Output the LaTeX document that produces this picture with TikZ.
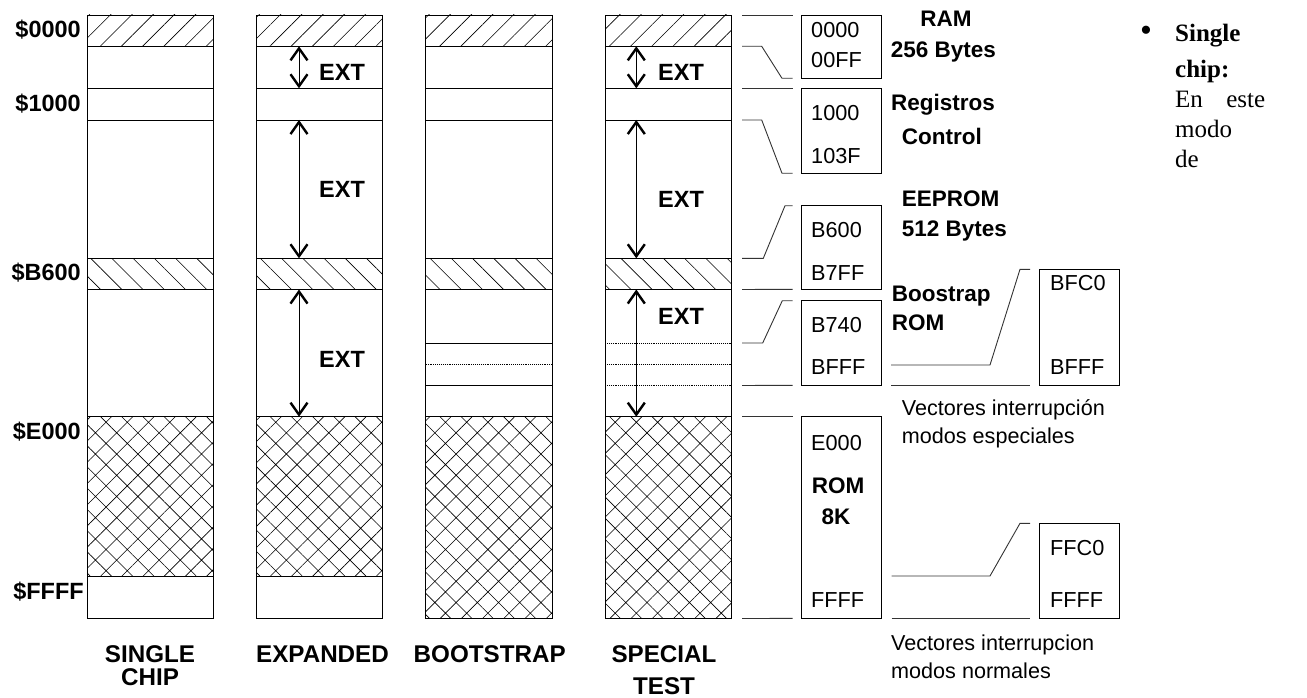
\documentclass[tikz,border=0pt]{standalone}
\usepackage{fontspec}
\setmainfont{Liberation Serif}
\setsansfont{Liberation Sans}
\usepackage{tikz}
\usetikzlibrary{arrows.meta,patterns.meta}
% one memory column: #1 = left edge, #2 = end of the ROM cross-hatch
\newcommand{\MemCol}[2]{%
  \begin{scope}[shift={(#1,0)}]
    \fill[pattern={Lines[angle=45,distance=15pt,line width=.6pt]}] (0,15) rectangle (126.5,46.3);
    \fill[pattern={Lines[angle=-45,distance=15pt,line width=.6pt]}] (0,258.3) rectangle (126.5,289.5);
    \fill[pattern={Hatch[angle=45,distance=15pt,line width=.6pt]}] (0,416.7) rectangle (126.5,#2);
    \draw[memline] (0,15) rectangle (126.5,618.5);
    \foreach \yy in {46.3,88.3,120,258.3,289.5,416.7,#2}
      \draw[memline] (0,\yy) -- (126.5,\yy);
  \end{scope}}
\tikzset{
  memline/.style={line width=.9pt},
  link/.style={line width=.9pt,black!80},
  addrbox/.style={draw,line width=.9pt,inner sep=0pt,outer sep=0pt,minimum width=80pt,anchor=north west},
  addr/.style={font=\sffamily\fontsize{21.7}{26}\selectfont,anchor=west,inner sep=0pt},
  hdr/.style={font=\sffamily\bfseries\fontsize{22.5}{26}\selectfont,inner sep=0pt},
  adrlbl/.style={font=\sffamily\bfseries\fontsize{23.5}{26}\selectfont,inner sep=0pt,anchor=east},
  extlbl/.style={font=\sffamily\bfseries\fontsize{23.5}{26}\selectfont,inner sep=0pt},
  modelbl/.style={font=\sffamily\bfseries\fontsize{24.2}{23}\selectfont,align=center,inner sep=0pt},
  note/.style={font=\sffamily\fontsize{21.6}{27.7}\selectfont,align=left,anchor=west,inner sep=0pt},
  extarrow/.style={{Straight Barb[length=12pt,width=17pt,line width=2.4pt]}-{Straight Barb[length=12pt,width=17pt,line width=2.4pt]},line width=.9pt}
}
\begin{document}
\begin{tikzpicture}[x=1pt,y=-1pt]
  \useasboundingbox (0,0) rectangle (1307,698);
  % memory maps
  \MemCol{87}{576}
  \MemCol{256}{576}
  \MemCol{425.7}{618.5}
  \MemCol{605}{618.5}
  \draw[memline] (425.7,343) -- ++(126.5,0);
  \draw[memline,densely dotted] (425.7,364.3) -- ++(126.5,0);
  \draw[memline] (425.7,385.7) -- ++(126.5,0);
  \foreach \yy in {343,364.3,385.7}
    \draw[memline,densely dotted] (605,\yy) -- ++(126.5,0);

  \node[adrlbl] (a0000) at (81,30) {\$0000};
  \node[adrlbl] (a1000) at (81,104) {\$1000};
  \node[adrlbl] (ab600) at (81,273) {\$B600};
  \node[adrlbl] (ae000) at (81,432) {\$E000};
  \node[adrlbl] (affff) at (84,592) {\$FFFF};

  % external ranges
  \foreach \xa/\xl in {299/342,636.3/681}{
    \draw[extarrow] (\xa,46.3) -- (\xa,88.3);
    \draw[extarrow] (\xa,120) -- (\xa,258.3);
    \draw[extarrow] (\xa,289.5) -- (\xa,416.7);
    \node[extlbl] at (\xl,72) {EXT};
  }
  \node[extlbl] (ext2) at (342,189) {EXT};
  \node[extlbl] (ext3) at (342,359) {EXT};
  \node[extlbl] (ext5) at (681,199) {EXT};
  \node[extlbl] (ext6) at (681,316) {EXT};

  \node[modelbl] (single) at (150,666) {SINGLE\\CHIP};
  \node[modelbl] (expanded) at (322.5,654.5) {EXPANDED};
  \node[modelbl] (bootstrap) at (489.7,654.5) {BOOTSTRAP};
  \node[modelbl] (special) at (664,670) {SPECIAL\\[8.7pt]TEST};

  % internal blocks
  \node[addrbox,minimum height=63.3pt] (ram) at (801.7,15) {};
  \node[addrbox,minimum height=85pt] (reg) at (801.7,88.3) {};
  \node[addrbox,minimum height=83.6pt] (eep) at (801.7,205.7) {};
  \node[addrbox,minimum height=84.6pt] (boot) at (801.7,300.7) {};
  \node[addrbox,minimum height=201.7pt] (rom) at (801.7,416.7) {};
  \node[addrbox,minimum width=79.7pt,minimum height=116pt] (vspec) at (1039.3,269.3) {};
  \node[addrbox,minimum width=79.7pt,minimum height=95pt] (vnorm) at (1039.3,523.3) {};

  \node[addr] (ramlo) at (811,30) {0000};
  \node[addr] (ramhi) at (811,60) {00FF};
  \node[addr] (reglo) at (811,113) {1000};
  \node[addr] (reghi) at (811,156) {103F};
  \node[addr] (eeplo) at (811,230) {B600};
  \node[addr] (eephi) at (811,272.7) {B7FF};
  \node[addr] (bootlo) at (811,325) {B740};
  \node[addr] (boothi) at (811,367.3) {BFFF};
  \node[addr] (romlo) at (811,442.7) {E000};
  \node[hdr] (romname) at (838,486) {ROM};
  \node[hdr] (romsize) at (836,516.7) {8K};
  \node[addr] (romhi) at (811,600) {FFFF};
  \node[addr] (vspeclo) at (1050,283.3) {BFC0};
  \node[addr] (vspechi) at (1050,367.3) {BFFF};
  \node[addr] (vnormlo) at (1050,547.7) {FFC0};
  \node[addr] (vnormhi) at (1050,600) {FFFF};

  \node[hdr] (ramt) at (946,19) {RAM};
  \node[hdr,anchor=west] (rams) at (890.7,51.7) {256 Bytes};
  \node[hdr,anchor=west] (regt) at (891,104.3) {Registros};
  \node[hdr,anchor=west] (regs) at (901.7,136) {Control};
  \node[hdr,anchor=west] (eept) at (901.7,198.3) {EEPROM};
  \node[hdr,anchor=west] (eeps) at (901.7,230.7) {512 Bytes};
  \node[hdr,anchor=west] (boott) at (891.7,295.7) {Boostrap};
  \node[hdr,anchor=west] (boots) at (891.7,322.7) {ROM};
  \node[note] (vspect) at (901.7,424) {Vectores interrupción\\modos especiales};
  \node[note] (vnormt) at (891,657) {Vectores interrupcion\\modos normales};

  % map lines
  \draw[link] (742,15) -- ([xshift=-9pt]ram.north west);
  \draw[link] (742,46.3) -- ++(19.7,0) -- ([xshift=-19.7pt]ram.south west) -- ([xshift=-9pt]ram.south west);
  \draw[link] (742,88.3) -- ([xshift=-9pt]reg.north west);
  \draw[link] (742,120) -- ++(19.7,0) -- ([xshift=-19.7pt]reg.south west) -- ([xshift=-9pt]reg.south west);
  \draw[link] (742,258.3) -- ++(21.3,0) -- ([xshift=-16.7pt]eep.north west) -- ([xshift=-9pt]eep.north west);
  \draw[link] (742,289.5) -- ([xshift=-9pt]eep.south west);
  \draw[link] (742,343) -- ++(20.7,0) -- ([xshift=-19.4pt]boot.north west) -- ([xshift=-9pt]boot.north west);
  \draw[link] (742,385.5) -- ([xshift=-9pt]boot.south west);
  \draw[link] (742,416.7) -- ([xshift=-9pt]rom.north west);
  \draw[link] (742,618.5) -- ([xshift=-9pt]rom.south west);
  \draw[link] (891,365) -- (990,365) -- ([xshift=-19.3pt]vspec.north west) -- ([xshift=-9.3pt]vspec.north west);
  \draw[link] (891,385.3) -- ([xshift=-9.3pt]vspec.south west);
  \draw[link] (891.7,576) -- (990,576) -- ([xshift=-19.3pt]vnorm.north west) -- ([xshift=-9.3pt]vnorm.north west);
  \draw[link] (891.7,618.3) -- ([xshift=-9.3pt]vnorm.south west);

  % side text
  \node[font=\fontsize{34}{34}\selectfont,inner sep=0pt] (bullet) at (1146,34) {\textbullet};
  \node[font=\fontsize{25}{30}\selectfont,text width=90pt,align=left,anchor=north west,inner sep=0pt] (sidetext) at (1175,24)
    {\textbf{Single}\\[5.6pt]\textbf{chip:}\\En\hfill este\\modo\\de};
\end{tikzpicture}
\end{document}
